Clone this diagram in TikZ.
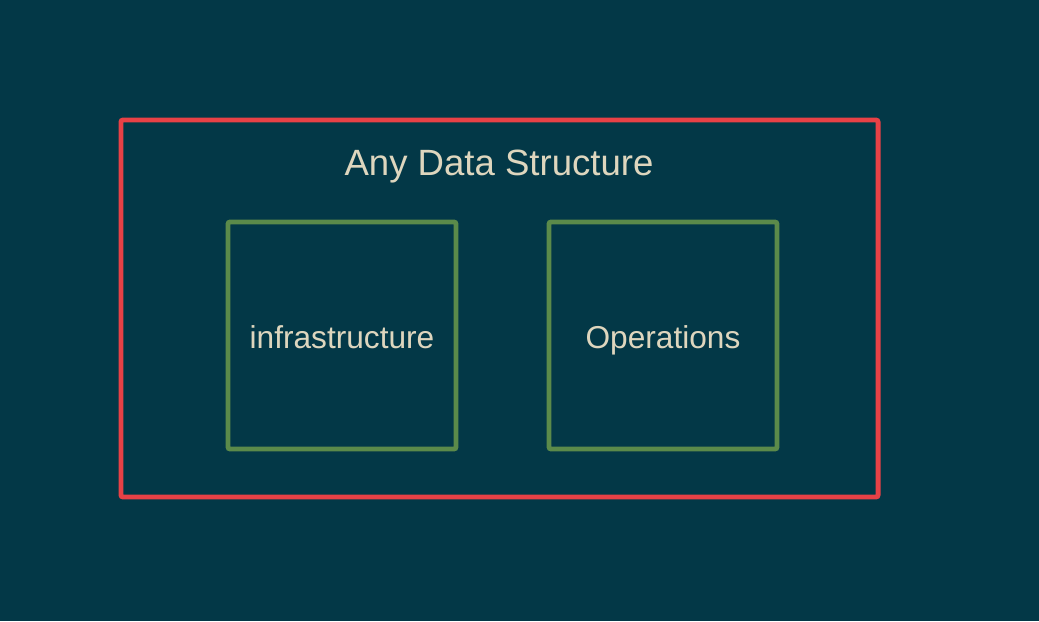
\documentclass[tikz,border=0pt]{standalone}
\usepackage{fontspec}
\setmainfont{Liberation Sans}
\definecolor{bgteal}{RGB}{3,56,71}
\definecolor{outerred}{RGB}{232,65,70}
\definecolor{innergreen}{RGB}{91,138,74}
\definecolor{labelcream}{RGB}{222,214,190}

\begin{document}
\begin{tikzpicture}[x=0.025cm, y=-0.025cm,
    outerbox/.style={draw=outerred, line width=0.12cm, rounded corners=1.5pt,
      inner sep=0pt, minimum width=18.925cm, minimum height=9.425cm},
    partbox/.style={draw=innergreen, line width=0.12cm, rounded corners=1.5pt,
      inner sep=0pt, minimum width=5.7cm, minimum height=5.675cm},
    partlabel/.style={text=labelcream, font=\fontsize{22.5}{27}\selectfont,
      text height=0.55cm, text depth=0.1cm, inner sep=0pt, yshift=-0.1cm}]
      \fill [bgteal] (0, 0) rectangle (1039, 621);
      \useasboundingbox (0, 0) rectangle (1039, 621);
      \node [outerbox] (structure) at (499.5, 308.5) {};
      \node [text=labelcream, font=\fontsize{26}{31}\selectfont,
        text height=0.65cm, text depth=0.12cm, inner sep=0pt] (title) at (499, 165) {Any Data Structure};
      \node [partbox] (infra) at (342, 335.5) {};
      \node [partbox] (ops)   at (663, 335.5) {};
      \node [partlabel] (infralabel) at (infra) {infrastructure};
      \node [partlabel] (opslabel)   at (ops)   {Operations};
    \end{tikzpicture}
\end{document}
